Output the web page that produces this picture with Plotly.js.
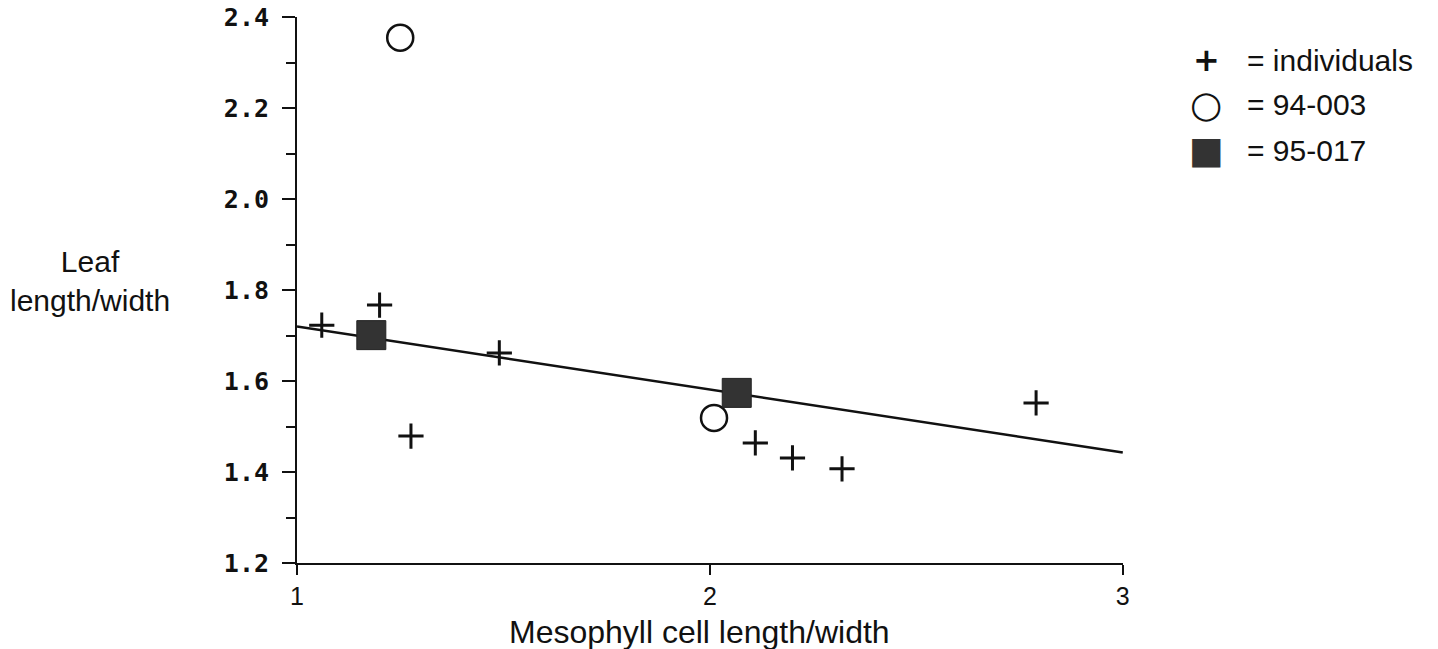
<!DOCTYPE html>
<html>
<head>
<meta charset="utf-8">
<script src="https://cdn.plot.ly/plotly-3.0.1.min.js"></script>
<style>html,body{margin:0;padding:0;background:#fff;}#chart{width:1438px;height:649px;}</style>
</head>
<body>
<div id="chart"></div>
<script>
// Individuals (+)
const indX = [1.06, 1.20, 1.49, 1.276, 2.11, 2.20, 2.32, 2.79];
const indY = [1.723, 1.767, 1.662, 1.479, 1.464, 1.431, 1.407, 1.552];
// 94-003 (open circles)
const popAX = [1.25, 2.01];
const popAY = [2.355, 1.519];
// 95-017 (filled squares)
const popBX = [1.18, 2.065];
const popBY = [1.701, 1.574];
// Regression line endpoints
const fitX = [1, 3];
const fitY = [1.72, 1.443];
// Axis ticks
const xTicks = [1, 2, 3];
const yTicks = [1.2, 1.4, 1.6, 1.8, 2.0, 2.2, 2.4];
const yTickText = ['1.2', '1.4', '1.6', '1.8', '2.0', '2.2', '2.4'];
// Legend
const legendSymbols = ['+', '\u25CB', '\u25A0'];
const legendLabels = ['= individuals', '= 94-003', '= 95-017'];

const traces = [
  {x: fitX, y: fitY, mode: 'lines', line: {color: '#111', width: 2.5}, hoverinfo: 'skip', showlegend: false},
  {x: indX, y: indY, mode: 'markers', marker: {symbol: 'cross-thin', size: 18, line: {color: '#111', width: 3}}, showlegend: false},
  {x: popAX, y: popAY, mode: 'markers', marker: {symbol: 'circle', size: 26, color: '#fff', line: {color: '#111', width: 2.5}}, showlegend: false},
  {x: popBX, y: popBY, mode: 'markers', marker: {symbol: 'square', size: 29, color: '#333', line: {color: '#222', width: 1}}, showlegend: false}
];

const legRowsY = [0.921, 0.839, 0.756];
const annotations = [];
legendLabels.forEach((lab, i) => {
  annotations.push({xref: 'paper', yref: 'paper', x: 1.1005, y: legRowsY[i], text: i === 0 ? '<b>+</b>' : legendSymbols[i],
    showarrow: false, xanchor: 'center', yanchor: 'middle',
    font: {family: 'DejaVu Sans', size: i === 0 ? 32 : 37, color: i === 2 ? '#333' : '#111'}});
  annotations.push({xref: 'paper', yref: 'paper', x: 1.148, y: legRowsY[i], text: lab,
    showarrow: false, xanchor: 'left', yanchor: 'middle',
    font: {family: 'Liberation Sans, Arial, sans-serif', size: 30, color: '#111'}});
});
annotations.push({xref: 'paper', yref: 'paper', x: -0.251, y: 0.516, text: 'Leaf<br>length/width',
  showarrow: false, xanchor: 'center', yanchor: 'middle', align: 'center',
  font: {family: 'Liberation Sans, Arial, sans-serif', size: 30, color: '#111'}});
annotations.push({xref: 'paper', yref: 'paper', x: 0.487, y: -0.126, text: 'Mesophyll cell length/width',
  showarrow: false, xanchor: 'center', yanchor: 'middle',
  font: {family: 'Liberation Sans, Arial, sans-serif', size: 32, color: '#111'}});

const layout = {
  width: 1438, height: 649,
  margin: {l: 297, r: 315, t: 17, b: 86},
  paper_bgcolor: '#fff', plot_bgcolor: '#fff',
  showlegend: false,
  xaxis: {
    range: [1, 3.0005], tickvals: xTicks, ticktext: xTicks.map(String),
    showgrid: false, zeroline: false, showline: true, linecolor: '#111', linewidth: 2,
    ticks: 'outside', ticklen: 10, tickwidth: 2, tickcolor: '#111',
    tickfont: {family: 'Liberation Sans, Arial, sans-serif', size: 25, color: '#111'}
  },
  yaxis: {
    range: [1.2, 2.4005], tickvals: yTicks, ticktext: yTickText,
    showgrid: false, zeroline: false, showline: true, linecolor: '#111', linewidth: 2,
    ticks: 'outside', ticklen: 13, tickwidth: 2, tickcolor: '#111',
    ticklabelstandoff: 8,
    minor: {dtick: 0.1, ticks: 'outside', ticklen: 9, tickwidth: 2, tickcolor: '#111', showgrid: false},
    tickfont: {family: 'DejaVu Sans Mono, monospace', size: 25, weight: 'bold', color: '#111'}
  },
  annotations: annotations
};

Plotly.newPlot('chart', traces, layout, {displayModeBar: false, staticPlot: true});
</script>
</body>
</html>
